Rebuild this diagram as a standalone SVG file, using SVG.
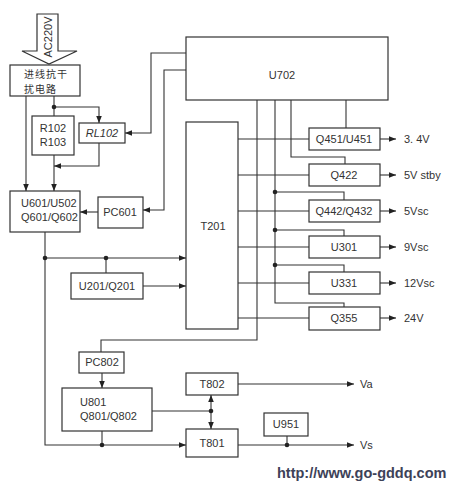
<svg xmlns="http://www.w3.org/2000/svg" width="456" height="486" viewBox="0 0 456 486">
<defs>
<style>
.box{fill:#fff;stroke:#333;stroke-width:1.2}
.ln{fill:none;stroke:#333;stroke-width:1.1}
.arr{fill:none;stroke:#333;stroke-width:1.1;marker-end:url(#ah)}
.t{font-family:"Liberation Sans",Arial,sans-serif;font-size:11px;fill:#333}
.c{text-anchor:middle}
.cn{font-family:"Noto Sans CJK SC","Noto Sans",sans-serif;font-size:10px;letter-spacing:1px;fill:#333}
.dot{fill:#222}
</style>
<marker id="ah" viewBox="0 0 10 10" refX="10" refY="5" markerWidth="8" markerHeight="7" markerUnits="userSpaceOnUse" orient="auto">
<path d="M0,1 L10,5 L0,9 Z" fill="#222"/>
</marker>
</defs>
<rect width="456" height="486" fill="#fff"/>

<g id="ac220v">
<path class="box" d="M37,14 L58,14 L58,51 L77,51 L49,64 L22,51 L37,51 Z"/>
<text class="t" transform="translate(52,37) rotate(-90)" text-anchor="middle" font-size="10">AC220V</text>
</g>

<g id="filter">
<rect class="box" x="10" y="65" width="70" height="31"/>
<text class="cn" x="24" y="78">进线抗干</text>
<text class="cn" x="24" y="93">扰电路</text>
</g>

<g id="r102">
<rect class="box" x="32" y="116" width="42" height="39"/>
<text class="t c" x="53" y="132">R102</text>
<text class="t c" x="53" y="146">R103</text>
</g>

<g id="rl102">
<rect class="box" x="79" y="123" width="46" height="20"/>
<text class="t c" x="102" y="137" font-style="italic">RL102</text>
</g>

<g id="u601">
<rect class="box" x="10" y="191" width="70" height="41"/>
<text class="t" x="21" y="207">U601/U502</text>
<text class="t" x="21" y="221">Q601/Q602</text>
</g>

<g id="pc601">
<rect class="box" x="98" y="197" width="45" height="31"/>
<text class="t c" x="120" y="216">PC601</text>
</g>

<g id="u201">
<rect class="box" x="71" y="273" width="72" height="26"/>
<text class="t c" x="107" y="290">U201/Q201</text>
</g>

<g id="u702">
<rect class="box" x="186" y="37" width="202" height="63"/>
<text class="t c" x="282" y="79">U702</text>
</g>

<g id="t201">
<rect class="box" x="186" y="122" width="52" height="207"/>
<text class="t c" x="213" y="230">T201</text>
</g>

<g id="q451">
<rect class="box" x="309" y="128" width="71" height="22"/>
<text class="t c" x="344" y="143">Q451/U451</text>
</g>
<g id="q422">
<rect class="box" x="309" y="164" width="71" height="22"/>
<text class="t c" x="344" y="179">Q422</text>
</g>
<g id="q442">
<rect class="box" x="309" y="200" width="71" height="22"/>
<text class="t c" x="344" y="215">Q442/Q432</text>
</g>
<g id="u301">
<rect class="box" x="309" y="236" width="71" height="22"/>
<text class="t c" x="344" y="251">U301</text>
</g>
<g id="u331">
<rect class="box" x="309" y="272" width="71" height="22"/>
<text class="t c" x="344" y="287">U331</text>
</g>
<g id="q355">
<rect class="box" x="309" y="307" width="71" height="23"/>
<text class="t c" x="344" y="322">Q355</text>
</g>

<g id="pc802">
<rect class="box" x="79" y="352" width="45" height="21"/>
<text class="t c" x="102" y="366">PC802</text>
</g>

<g id="u801">
<rect class="box" x="62" y="388" width="90" height="43"/>
<text class="t" x="80" y="406">U801</text>
<text class="t" x="80" y="420">Q801/Q802</text>
</g>

<g id="t802">
<rect class="box" x="186" y="373" width="52" height="22"/>
<text class="t c" x="212" y="388">T802</text>
</g>

<g id="t801">
<rect class="box" x="186" y="429" width="52" height="28"/>
<text class="t c" x="212" y="447">T801</text>
</g>

<g id="u951">
<rect class="box" x="264" y="413" width="44" height="23"/>
<text class="t c" x="286" y="428">U951</text>
</g>

<g id="connectors">
<path class="arr" d="M26,96 V191"/>
<path class="ln" d="M54,96 V116"/>
<path class="arr" d="M54,107 H99 V123"/>
<path class="arr" d="M54,155 V191"/>
<path class="arr" d="M99,143 V166 H54"/>
<path class="arr" d="M186,53 H151 V133 H125"/>
<path class="arr" d="M186,70 H164 V210 H143"/>
<path class="arr" d="M98,212 H80"/>
<path class="arr" d="M45,232 V445 H186"/>
<path class="arr" d="M45,258 H186"/>
<path class="ln" d="M106,258 V273"/>
<path class="arr" d="M143,286 H186"/>
<path class="ln" d="M346,100 V128"/>
<path class="ln" d="M291,100 V157 H345 V164"/>
<path class="ln" d="M275,100 V303 H344 V307"/>
<path class="ln" d="M275,192 H344 V200"/>
<path class="ln" d="M275,230 H344 V236"/>
<path class="ln" d="M275,265 H344 V272"/>
<path class="ln" d="M257,100 V340 H101 V352"/>
<path class="ln" d="M238,139 H309 M238,175 H309 M238,211 H309 M238,247 H309 M238,283 H309 M238,318 H309"/>
<path class="arr" d="M380,139 H396"/>
<path class="arr" d="M380,175 H396"/>
<path class="arr" d="M380,211 H396"/>
<path class="arr" d="M380,247 H396"/>
<path class="arr" d="M380,283 H396"/>
<path class="arr" d="M380,318 H396"/>
<path class="arr" d="M102,373 V388"/>
<path class="ln" d="M152,411 H211"/>
<path class="arr" d="M211,411 V395"/>
<path class="arr" d="M211,411 V429"/>
<path class="ln" d="M102,431 V445"/>
<path class="arr" d="M238,384 H354"/>
<path class="arr" d="M238,445 H354"/>
<path class="ln" d="M287,436 V445"/>
<circle class="dot" cx="54" cy="107" r="2.3"/>
<circle class="dot" cx="45" cy="258" r="2.3"/>
<circle class="dot" cx="106" cy="258" r="2.3"/>
<circle class="dot" cx="275" cy="192" r="2.3"/>
<circle class="dot" cx="275" cy="230" r="2.3"/>
<circle class="dot" cx="275" cy="265" r="2.3"/>
<circle class="dot" cx="211" cy="411" r="2.3"/>
<circle class="dot" cx="102" cy="445" r="2.3"/>
<circle class="dot" cx="287" cy="445" r="2.3"/>
</g>

<g id="labels">
<text class="t" x="404" y="143">3. 4V</text>
<text class="t" x="404" y="179">5V stby</text>
<text class="t" x="404" y="215">5Vsc</text>
<text class="t" x="404" y="251">9Vsc</text>
<text class="t" x="404" y="287">12Vsc</text>
<text class="t" x="404" y="322">24V</text>
<text class="t" x="360" y="388">Va</text>
<text class="t" x="360" y="449">Vs</text>
<text x="277" y="478" font-family="'Liberation Sans',Arial,sans-serif" font-size="14.5" font-weight="bold" fill="#3d4258">http://www.go-gddq.com</text>
</g>
</svg>
